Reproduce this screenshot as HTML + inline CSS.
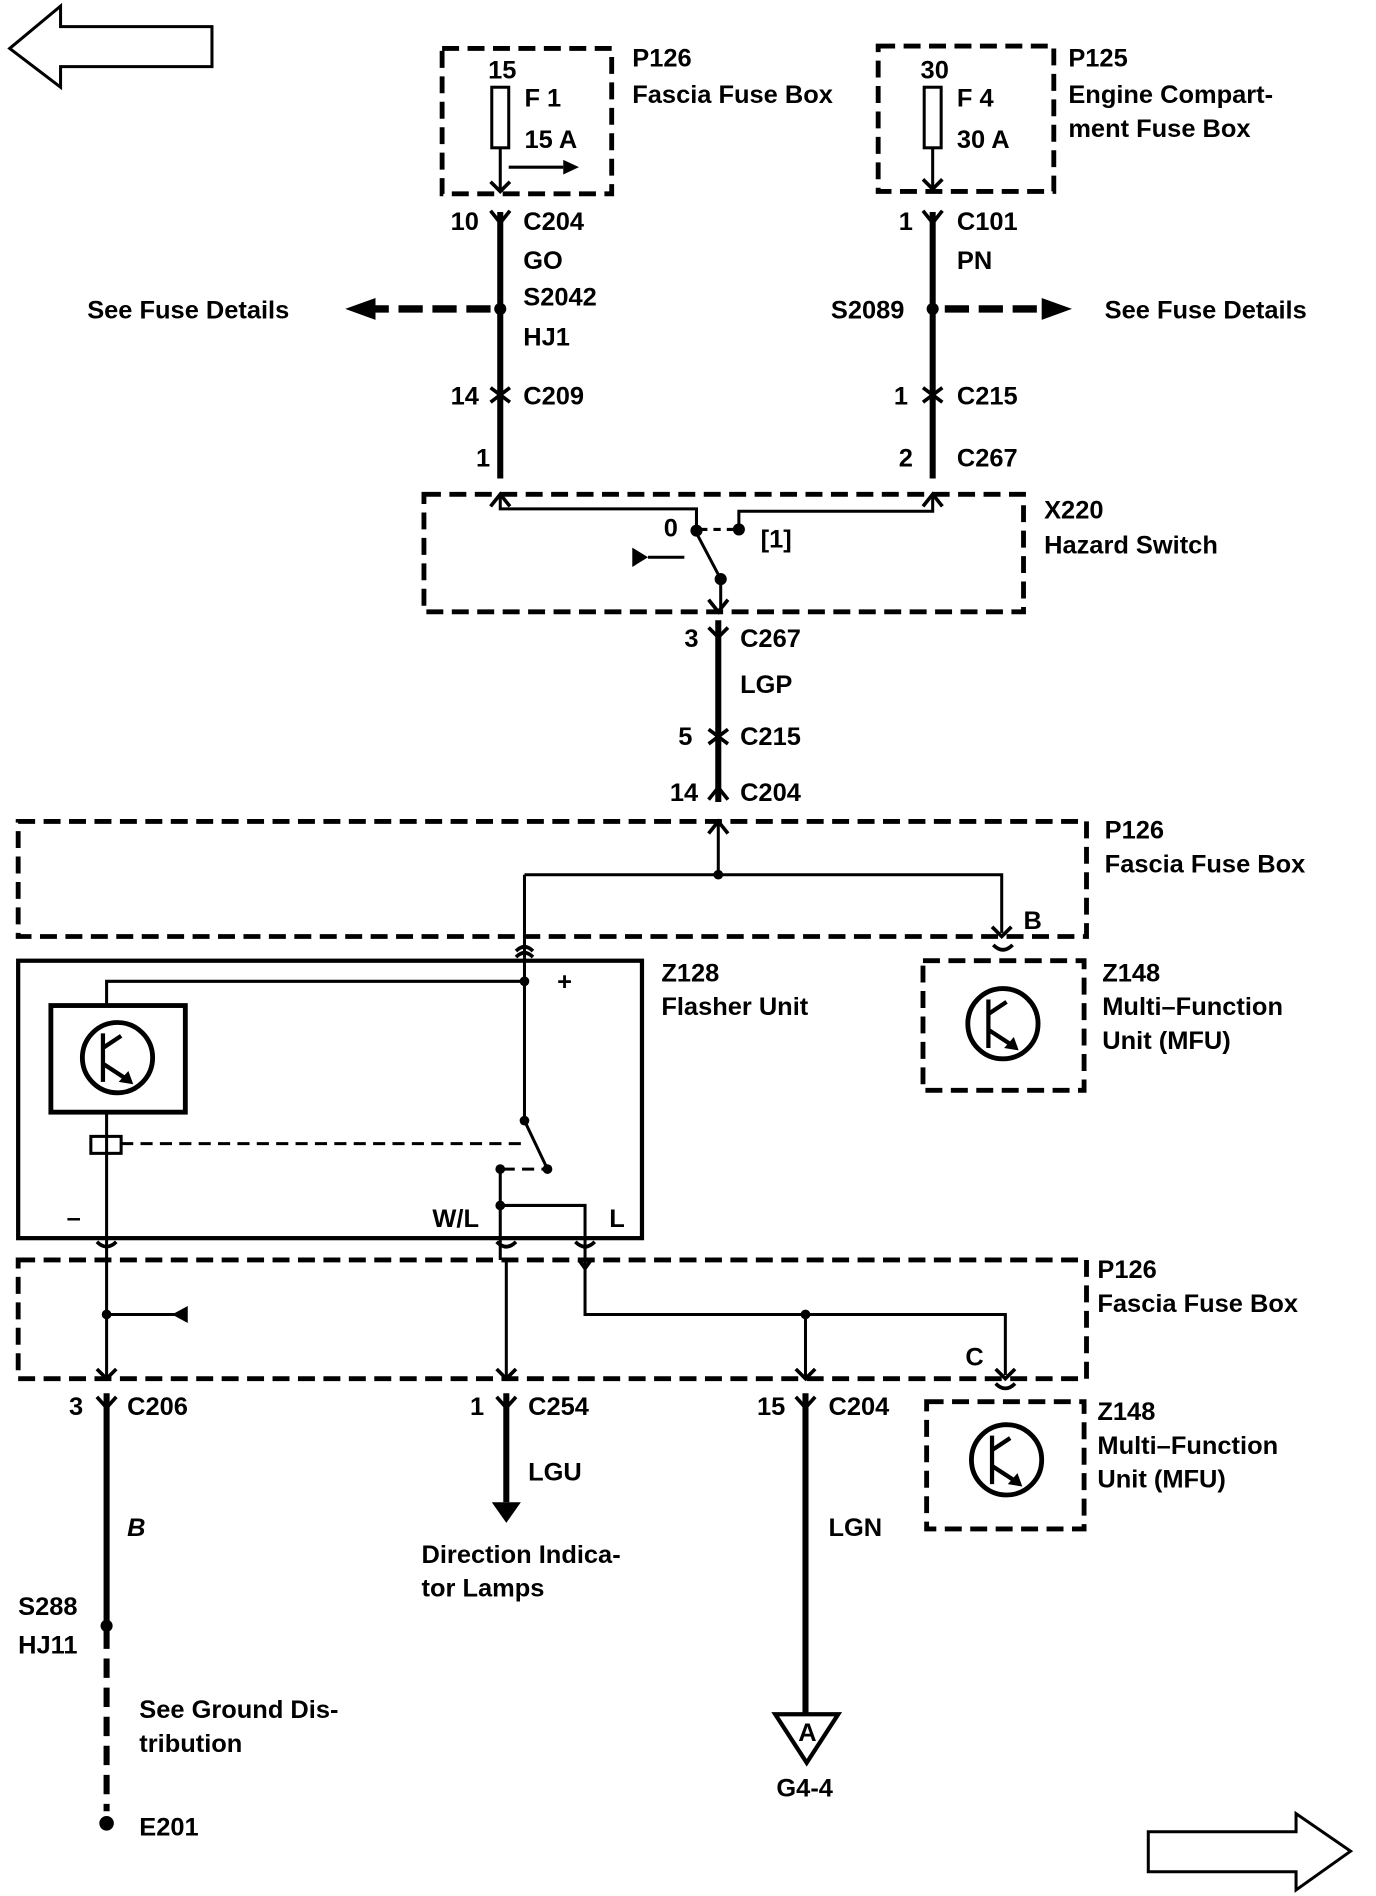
<!DOCTYPE html>
<html><head><meta charset="utf-8"><style>
html,body{margin:0;padding:0;background:#fff}
svg{display:block}
text{font-family:"Liberation Sans",sans-serif;font-weight:bold;font-size:21px;fill:#000}
</style></head><body>
<svg width="1376" height="1896" viewBox="0 0 1136 1565" preserveAspectRatio="none" xmlns="http://www.w3.org/2000/svg">
<g fill="none" stroke="#000">
<polygon points="8,40 50,5 50,22 175,22 175,55 50,55 50,72" stroke-width="2.5"/>
<polygon points="948,1512 1070,1512 1070,1497 1115,1528 1070,1560 1070,1545 948,1545" stroke-width="2.5"/>
<g stroke-width="4" stroke-dasharray="14,7">
<rect x="365" y="40" width="140" height="120"/>
<rect x="725" y="38" width="145" height="120"/>
<rect x="350" y="408" width="495" height="97"/>
<rect x="15" y="678" width="882" height="95"/>
<rect x="15" y="1040" width="882" height="98"/>
<rect x="762" y="793" width="133" height="107"/>
<rect x="765" y="1157" width="130" height="105"/>
</g>
<rect x="406" y="72" width="14" height="50" stroke-width="2.5"/>
<rect x="763" y="72" width="14" height="50" stroke-width="2.5"/>
<path d="M413 122V158M770 122V156M420 138H465" stroke-width="2.5"/>
<path d="M413 175V395M770 175V395M593 512V662M665 1150V1415M418 1150V1240" stroke-width="5"/>
<path d="M88 1150V1340" stroke-width="5"/>
<path d="M88 1345V1495" stroke-width="5" stroke-dasharray="16,8"/>
<path d="M405 255H310M780 255H860" stroke-width="6" stroke-dasharray="20,8"/>
<path d="M413 410V420H575V437M770 410V422H610V437M575 440L595 478V503M535 460H565" stroke-width="2.5"/>
<path d="M578 437H606" stroke-width="2.5" stroke-dasharray="6,5"/>
<path d="M593 680V722M433 722H827V770M433 722V790" stroke-width="2.5"/>
<rect x="15" y="793" width="515" height="229" stroke-width="3.5"/>
<rect x="42" y="830" width="111" height="88" stroke-width="4"/>
<path d="M88 830V810H433M433 790V925L452 965M413 965V1040M413 995H483V1040M88 918V1040" stroke-width="2.5"/>
<rect x="75" y="938" width="25" height="14" stroke-width="2.5"/>
<path d="M100 944H430M415 965H450" stroke-width="2.5" stroke-dasharray="10,6"/>
<path d="M88 1040V1138M88 1085H150M418 1040V1138M483 1040V1085H830V1135M665 1085V1138" stroke-width="2.5"/>
<circle cx="97" cy="873" r="29" stroke-width="4"/>
<circle cx="828" cy="845" r="29" stroke-width="4"/>
<circle cx="831" cy="1205" r="29" stroke-width="4"/>
<path d="M85 853V893M85 865L100 855M85 878L108 893M816 825V865M816 837L831 827M816 850L839 865M819 1185V1225M819 1197L834 1187M819 1210L842 1225" stroke-width="3.5"/>
<polygon points="640,1415 692,1415 666,1455" stroke-width="3.5"/>
<g stroke-width="3">
<path d="M405 174L413 184L421 174M762 174L770 184L778 174M405 320L413 326L421 320M405 332L413 326L421 332M762 320L770 326L778 320M762 332L770 326L778 332"/>
<path d="M585 518L593 526L601 518M585 602L593 608L601 602M585 614L593 608L601 614M585 660L593 650L601 660"/>
<path d="M80 1153L88 1162L96 1153M410 1153L418 1162L426 1153M657 1153L665 1162L673 1153"/>
<path d="M426 785Q433 778 440 785M426 790Q433 783 440 790M80 1025Q88 1033 96 1025M410 1025Q418 1033 426 1025M475 1025Q483 1033 491 1025M820 780Q828 788 836 780M822 1142Q830 1150 838 1142"/>
<path d="M405 418L413 408L421 418M762 418L770 408L778 418M585 495L593 505L601 495M585 688L593 678L601 688M819 765L827 773L835 765M80 1130L88 1138L96 1130M410 1130L418 1138L426 1130M657 1130L665 1138L673 1130M822 1130L830 1138L838 1130M405 150L413 158L421 150M762 148L770 156L778 148M478 1040L483 1047L488 1040"/>
</g>
</g>
<g fill="#000">
<polygon points="465,132 478,138 465,144"/>
<polygon points="310,246 285,255 310,264"/>
<polygon points="860,246 885,255 860,264"/>
<polygon points="522,452 535,460 522,468"/>
<polygon points="155,1078 142,1085 155,1092"/>
<polygon points="406,1240 430,1240 418,1257"/>
<polygon points="110,895 98,893 106,884"/>
<polygon points="841,867 829,865 837,856"/>
<polygon points="844,1227 832,1225 840,1216"/>
<circle cx="413" cy="255" r="5"/><circle cx="770" cy="255" r="5"/>
<circle cx="575" cy="438" r="5"/><circle cx="610" cy="437" r="5"/><circle cx="595" cy="478" r="5"/>
<circle cx="593" cy="722" r="4"/><circle cx="433" cy="810" r="4"/><circle cx="433" cy="925" r="4"/><circle cx="452" cy="965" r="4"/>
<circle cx="413" cy="965" r="4"/><circle cx="413" cy="995" r="4"/><circle cx="88" cy="1085" r="4"/><circle cx="665" cy="1085" r="4"/>
<circle cx="88" cy="1342" r="5"/><circle cx="88" cy="1505" r="6"/>
</g>
<text x="403" y="65">15</text><text x="433" y="88">F 1</text><text x="433" y="122">15 A</text>
<text x="522" y="55">P126</text><text x="522" y="85">Fascia Fuse Box</text>
<text x="760" y="65">30</text><text x="790" y="88">F 4</text><text x="790" y="122">30 A</text>
<text x="882" y="55">P125</text><text x="882" y="85">Engine Compart-</text><text x="882" y="113">ment Fuse Box</text>
<text x="372" y="190">10</text><text x="432" y="190">C204</text><text x="432" y="222">GO</text>
<text x="432" y="252">S2042</text><text x="432" y="285">HJ1</text><text x="72" y="263">See Fuse Details</text>
<text x="372" y="334">14</text><text x="432" y="334">C209</text><text x="393" y="385">1</text>
<text x="742" y="190">1</text><text x="790" y="190">C101</text><text x="790" y="222">PN</text>
<text x="686" y="263">S2089</text><text x="912" y="263">See Fuse Details</text>
<text x="738" y="334">1</text><text x="790" y="334">C215</text><text x="742" y="385">2</text><text x="790" y="385">C267</text>
<text x="548" y="443">0</text><text x="628" y="452">[1]</text>
<text x="862" y="428">X220</text><text x="862" y="457">Hazard Switch</text>
<text x="565" y="534">3</text><text x="611" y="534">C267</text><text x="611" y="572">LGP</text>
<text x="560" y="615">5</text><text x="611" y="615">C215</text><text x="553" y="661">14</text><text x="611" y="661">C204</text>
<text x="912" y="692">P126</text><text x="912" y="720">Fascia Fuse Box</text><text x="845" y="767">B</text>
<text x="546" y="810">Z128</text><text x="546" y="838">Flasher Unit</text><text x="460" y="817">+</text>
<text x="910" y="810">Z148</text><text x="910" y="838">Multi–Function</text><text x="910" y="866">Unit (MFU)</text>
<text x="55" y="1012">–</text><text x="357" y="1013">W/L</text><text x="503" y="1013">L</text>
<text x="906" y="1055">P126</text><text x="906" y="1083">Fascia Fuse Box</text><text x="797" y="1127">C</text>
<text x="906" y="1172">Z148</text><text x="906" y="1200">Multi–Function</text><text x="906" y="1228">Unit (MFU)</text>
<text x="57" y="1168">3</text><text x="105" y="1168">C206</text><text x="105" y="1268" font-style="italic">B</text>
<text x="15" y="1333">S288</text><text x="15" y="1365">HJ11</text>
<text x="115" y="1418">See Ground Dis-</text><text x="115" y="1446">tribution</text><text x="115" y="1515">E201</text>
<text x="388" y="1168">1</text><text x="436" y="1168">C254</text><text x="436" y="1222">LGU</text>
<text x="348" y="1290">Direction Indica-</text><text x="348" y="1318">tor Lamps</text>
<text x="625" y="1168">15</text><text x="684" y="1168">C204</text><text x="684" y="1268">LGN</text>
<text x="659" y="1437" font-size="16">A</text><text x="641" y="1483">G4-4</text>
</svg>
</body></html>
